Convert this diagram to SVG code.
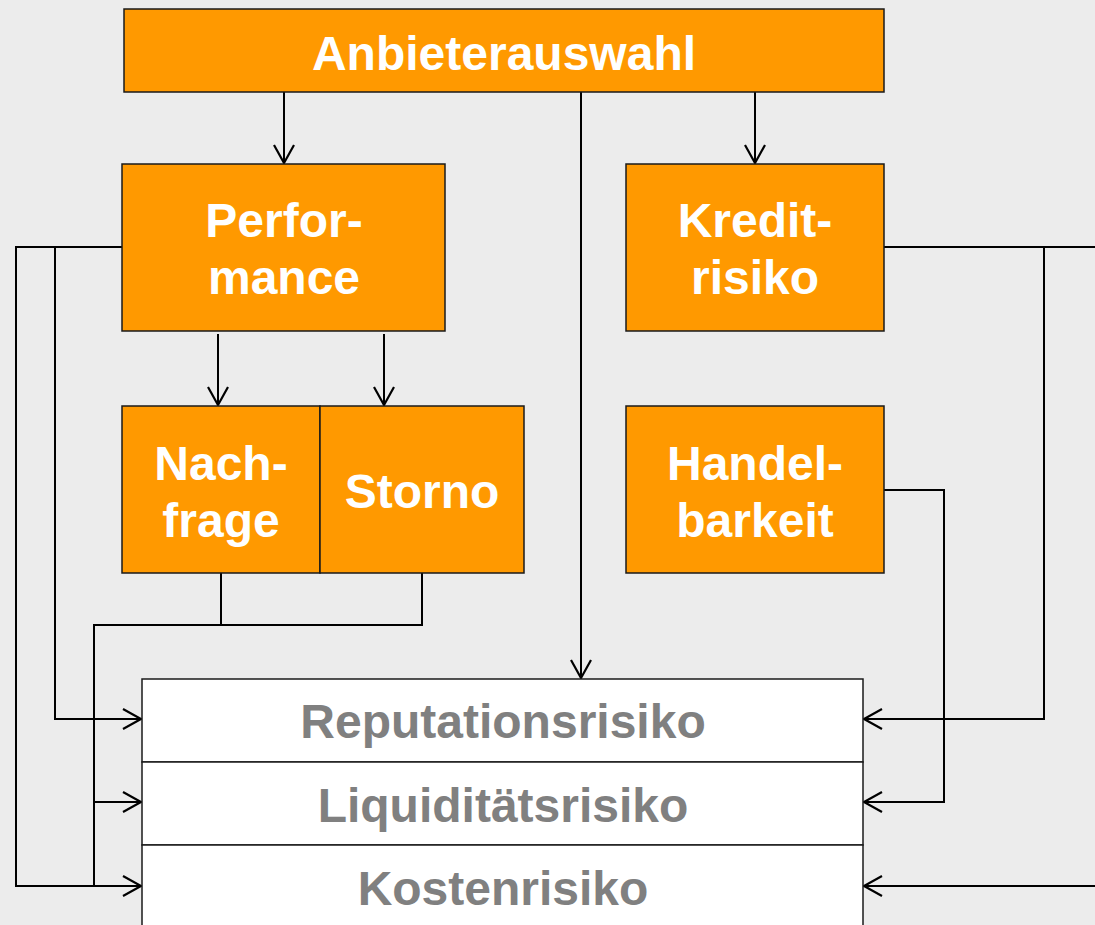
<svg xmlns="http://www.w3.org/2000/svg" width="1095" height="925" viewBox="0 0 1095 925">
<defs>
<style>
.box{fill:#ff9900;stroke:#1a1a1a;stroke-width:1.5}
.wbox{fill:#ffffff;stroke:#1a1a1a;stroke-width:1.5}
.t{font-family:"Liberation Sans",Arial,sans-serif;font-weight:bold;font-size:48px;fill:#ffffff;text-anchor:middle}
.g{font-family:"Liberation Sans",Arial,sans-serif;font-weight:bold;font-size:48px;fill:#808080;text-anchor:middle}
.c{fill:none;stroke:#000;stroke-width:2}
</style>
<marker id="ah" markerUnits="userSpaceOnUse" markerWidth="22" markerHeight="24" refX="19" refY="11" orient="auto">
<path d="M1,1 L19,11 L1,21" fill="none" stroke="#000" stroke-width="2.2"/>
</marker>
</defs>
<rect width="1095" height="925" fill="#ececec"/>
<g id="connectors">
<path class="c" d="M284,92 V163" marker-end="url(#ah)"/>
<path class="c" d="M755,92 V163" marker-end="url(#ah)"/>
<path class="c" d="M581,92 V678" marker-end="url(#ah)"/>
<path class="c" d="M218,334 V405" marker-end="url(#ah)"/>
<path class="c" d="M384,334 V405" marker-end="url(#ah)"/>
<path class="c" d="M122,247 H16 V886 H141" marker-end="url(#ah)"/>
<path class="c" d="M55,247 V719 H141" marker-end="url(#ah)"/>
<path class="c" d="M221,573 V625 H94 V886"/>
<path class="c" d="M422,573 V625 H221"/>
<path class="c" d="M94,802 H141" marker-end="url(#ah)"/>
<path class="c" d="M884,247 H1095"/>
<path class="c" d="M1044,247 V719 H864" marker-end="url(#ah)"/>
<path class="c" d="M1095,886 H864" marker-end="url(#ah)"/>
<path class="c" d="M884,490 H944 V802 H864" marker-end="url(#ah)"/>
</g>
<g id="anbieterauswahl">
<rect class="box" x="124" y="9" width="760" height="83"/>
<text class="t" x="504" y="70">Anbieterauswahl</text>
</g>
<g id="performance">
<rect class="box" x="122" y="164" width="323" height="167"/>
<text class="t" x="284" y="237">Perfor-</text>
<text class="t" x="284" y="294">mance</text>
</g>
<g id="kreditrisiko">
<rect class="box" x="626" y="164" width="258" height="167"/>
<text class="t" x="755" y="237">Kredit-</text>
<text class="t" x="755" y="294">risiko</text>
</g>
<g id="nachfrage">
<rect class="box" x="122" y="406" width="198" height="167"/>
<text class="t" x="221" y="480">Nach-</text>
<text class="t" x="221" y="537">frage</text>
</g>
<g id="storno">
<rect class="box" x="320" y="406" width="204" height="167"/>
<text class="t" x="422" y="508">Storno</text>
</g>
<g id="handelbarkeit">
<rect class="box" x="626" y="406" width="258" height="167"/>
<text class="t" x="755" y="480">Handel-</text>
<text class="t" x="755" y="537">barkeit</text>
</g>
<g id="reputationsrisiko">
<rect class="wbox" x="142" y="679" width="721" height="83"/>
<text class="g" x="503" y="738">Reputationsrisiko</text>
</g>
<g id="liquiditaetsrisiko">
<rect class="wbox" x="142" y="762" width="721" height="83"/>
<text class="g" x="503" y="822">Liquiditätsrisiko</text>
</g>
<g id="kostenrisiko">
<rect class="wbox" x="142" y="845" width="721" height="90"/>
<text class="g" x="503" y="905">Kostenrisiko</text>
</g>
</svg>
